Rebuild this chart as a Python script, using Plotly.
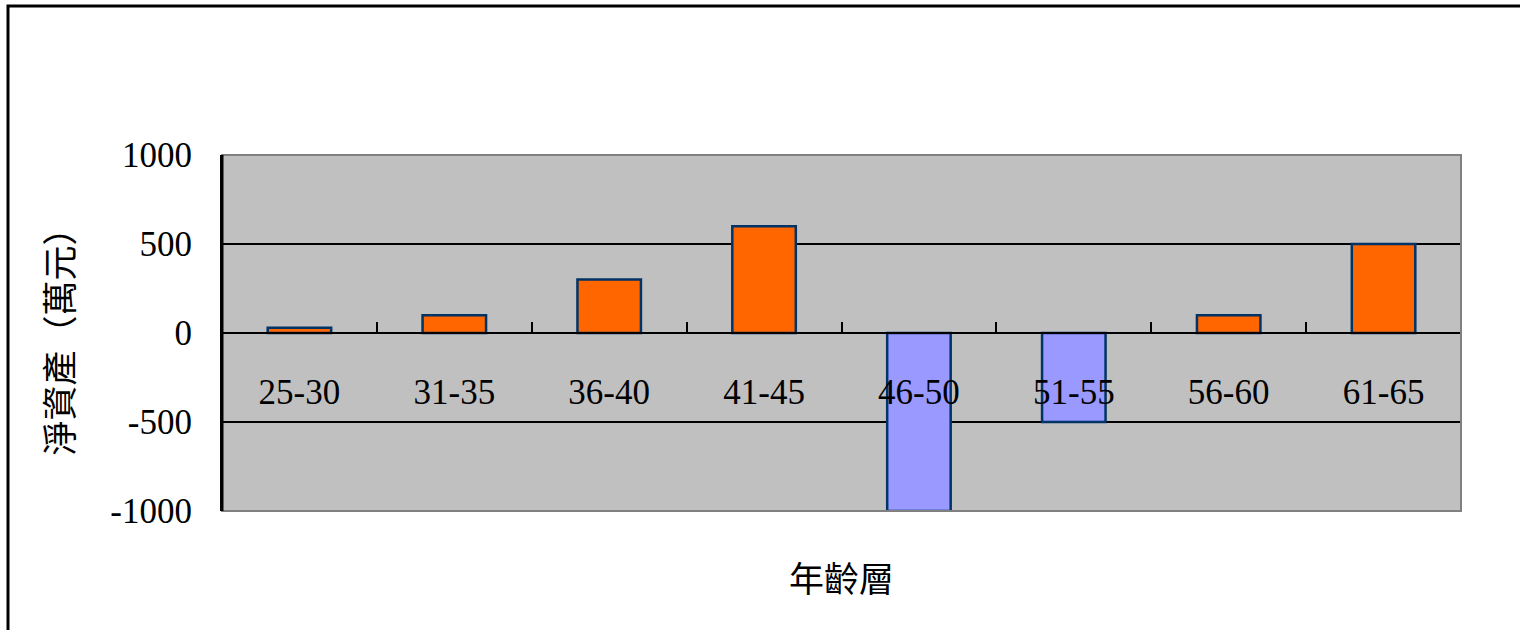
import plotly.graph_objects as go

# Net assets by age group (unit: 10,000 NTD)
age_groups = ["25-30", "31-35", "36-40", "41-45", "46-50", "51-55", "56-60", "61-65"]
net_assets = [30, 100, 300, 600, -1000, -500, 100, 500]
y_ticks = [-1000, -500, 0, 500, 1000]

POS_COLOR = "#FF6600"
NEG_COLOR = "#9999FF"
bar_colors = [POS_COLOR if v >= 0 else NEG_COLOR for v in net_assets]

FONT = "Liberation Serif, Times New Roman, Noto Sans CJK TC, serif"

W, H = 1520, 630
L, R, T, B = 222, 1461, 155, 511  # plot area in pixels
pw, ph = R - L, B - T

fig = go.Figure(
    go.Bar(
        x=age_groups,
        y=net_assets,
        marker=dict(color=bar_colors, line=dict(color="#003366", width=2.5)),
        width=0.41,
    )
)

fig.update_layout(
    width=W,
    height=H,
    margin=dict(l=L, r=W - R, t=T, b=H - B, pad=0),
    paper_bgcolor="white",
    plot_bgcolor="#C0C0C0",
    showlegend=False,
    font=dict(family=FONT, size=35, color="black"),
    bargap=0.59,
)

fig.update_xaxes(
    type="category",
    anchor="free",
    position=0.5,
    showline=True,
    linecolor="black",
    linewidth=2,
    showgrid=False,
    ticks="inside",
    tickson="boundaries",
    ticklen=10,
    tickwidth=2,
    tickcolor="black",
    ticklabelstandoff=28,
    tickfont=dict(family=FONT, size=35, color="black"),
    zeroline=False,
)

fig.update_yaxes(
    range=[-1000, 1000],
    tickvals=y_ticks,
    ticktext=[str(v) for v in y_ticks],
    showline=True,
    linecolor="black",
    linewidth=2,
    showgrid=True,
    gridcolor="black",
    gridwidth=2,
    zeroline=False,
    ticks="inside",
    ticklen=12,
    tickwidth=2,
    tickcolor="black",
    ticklabelstandoff=21,
    tickfont=dict(family=FONT, size=35, color="black"),
    title=dict(text="淨資產（萬元）", font=dict(family=FONT, size=35, color="black"), standoff=26),
)

# Gray frame on the top, right and bottom of the plot area
fig.add_shape(
    type="rect", xref="paper", yref="paper", x0=0, x1=1, y0=0, y1=1,
    line=dict(color="#808080", width=2), layer="above",
)
# Redraw the black left axis over the frame
fig.add_shape(
    type="line", xref="paper", yref="paper", x0=0, x1=0, y0=0, y1=1,
    line=dict(color="black", width=3), layer="above",
)

# Outer chart border (extends past the right and bottom edges)
fig.add_shape(
    type="rect", xref="paper", yref="paper",
    x0=(8 - L) / pw, x1=(W + 20 - L) / pw,
    y0=(B - (H + 20)) / ph, y1=(B - 6) / ph,
    line=dict(color="black", width=3), layer="above",
)

# X-axis title below the plot area
fig.add_annotation(
    text="年齡層", xref="paper", yref="paper", x=0.5, y=(B - 580) / ph,
    showarrow=False, xanchor="center", yanchor="middle",
    font=dict(family=FONT, size=35, color="black"),
)

fig.write_html("out.html")
